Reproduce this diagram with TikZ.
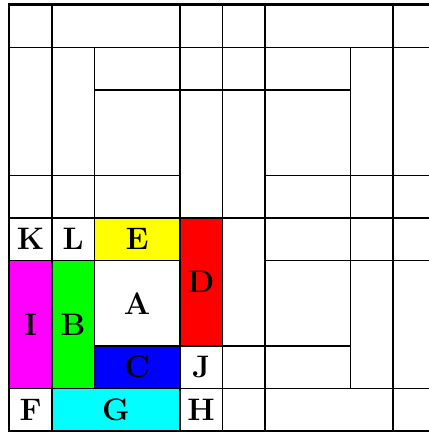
\documentclass[tikz,border=0pt]{standalone}
\begin{document}
\begin{tikzpicture}[x=1cm,y=-1cm,
  cellline/.style={draw=black,line width=0.95pt},
  outerline/.style={draw=black,line width=1.6pt},
  lab/.style={font=\huge\bfseries,inner sep=0pt}]
\definecolor{pmag}{RGB}{255,0,255}
\definecolor{pcyan}{RGB}{0,255,255}
\definecolor{pgreen}{RGB}{0,255,0}
\definecolor{pyellow}{RGB}{255,255,0}
\definecolor{pred}{RGB}{255,0,0}
\definecolor{pblue}{RGB}{0,0,255}
\useasboundingbox (-0.216,-0.11) rectangle (9.84,10.02);
% coloured cells
\fill[pyellow] (2,5) rectangle (4,6);
\fill[pred]    (4,5) rectangle (5,8);
\fill[pmag]    (0,6) rectangle (1,9);
\fill[pgreen]  (1,6) rectangle (2,9);
\fill[pblue]   (2,8) rectangle (4,9);
\fill[pcyan]   (1,9) rectangle (4,10);
% all cells
\foreach \a/\b/\c/\d in {
  0/0/1/1, 1/0/4/1, 4/0/5/1, 5/0/6/1, 6/0/9/1, 9/0/10/1,
  0/1/1/4, 1/1/2/4, 2/1/4/2, 2/2/4/4, 4/1/5/2, 5/1/6/2, 6/1/8/2, 8/1/9/4, 9/1/10/4,
  0/4/1/5, 1/4/2/5, 2/4/4/5, 4/2/5/5, 5/2/6/5, 6/2/8/4, 6/4/8/5, 8/4/9/5, 9/4/10/5,
  0/5/1/6, 1/5/2/6, 2/5/4/6, 4/5/5/8, 5/5/6/8, 6/5/8/6, 8/5/9/6, 9/5/10/6,
  0/6/1/9, 1/6/2/9, 2/6/4/8, 2/8/4/9, 4/8/5/9, 5/8/6/9, 6/6/8/8, 6/8/8/9, 8/6/9/9, 9/6/10/9,
  0/9/1/10, 1/9/4/10, 4/9/5/10, 5/9/6/10, 6/9/9/10, 9/9/10/10}
  \draw[cellline] (\a,\b) rectangle (\c,\d);
\draw[outerline] (0,0) rectangle (10,10);
% labels
\node[lab] (K) at (0.5,5.5) {K};
\node[lab] (L) at (1.5,5.5) {L};
\node[lab] (E) at (3,5.5) {E};
\node[lab] (D) at (4.5,6.5) {D};
\node[lab] (I) at (0.5,7.5) {I};
\node[lab] (B) at (1.5,7.5) {B};
\node[lab] (A) at (3,7) {A};
\node[lab] (C) at (3,8.5) {C};
\node[lab] (J) at (4.5,8.5) {J};
\node[lab] (F) at (0.5,9.5) {F};
\node[lab] (G) at (2.5,9.5) {G};
\node[lab] (H) at (4.5,9.5) {H};
\end{tikzpicture}
\end{document}
